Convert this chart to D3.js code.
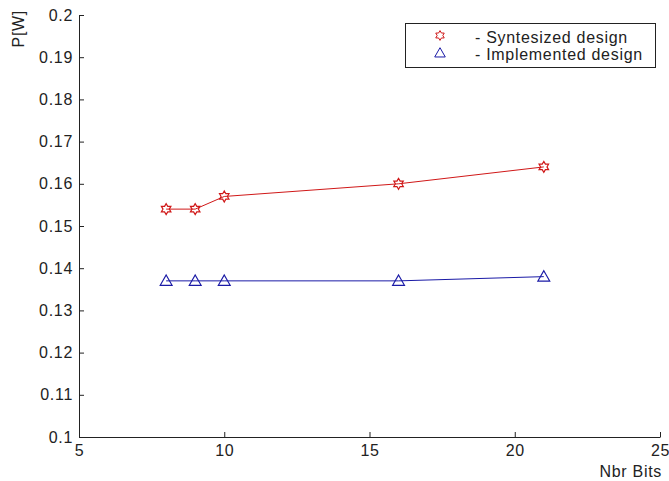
<!DOCTYPE html>
<html>
    <head>
        <title>Power vs Nbr Bits</title>
        <script src="https://d3js.org/d3.v7.min.js"></script>
        <style>
            body { margin: 0; background: #fff; }
            text { font-family: "Liberation Sans", Arial, sans-serif; fill: #222; letter-spacing: 0.7px; }
        </style>
    </head>
    <body>
        <svg width="669" height="481"></svg>
        <script>
            // data
            const bits = [8, 9, 10, 16, 21];
            const synthesized = [0.154, 0.154, 0.157, 0.16, 0.164];
            const implemented = [0.137, 0.137, 0.137, 0.137, 0.138];
            const xTicks = [5, 10, 15, 20, 25];
            const yTicks = [0.1, 0.11, 0.12, 0.13, 0.14, 0.15, 0.16, 0.17, 0.18, 0.19, 0.2];
            const legendLabels = ["- Syntesized design", "- Implemented design"];

            const svg = d3.select("svg"),
                margin = { top: 15, right: 9, bottom: 44, left: 79 },
                width = +svg.attr("width") - margin.left - margin.right,
                height = +svg.attr("height") - margin.top - margin.bottom;

            const g = svg.append("g")
                .attr("transform", `translate(${margin.left},${margin.top})`);

            const x = d3.scaleLinear().domain([5, 25]).range([0, width]);
            const y = d3.scaleLinear().domain([0.1, 0.2]).range([height, 0]);

            // axes, ticks point inward like matlab
            const xAxis = g.append("g")
                .attr("transform", `translate(0,${height})`)
                .call(d3.axisBottom(x).tickValues(xTicks).tickSizeInner(-5).tickSizeOuter(0).tickPadding(8).tickFormat(d3.format("d")));
            const yAxis = g.append("g")
                .call(d3.axisLeft(y).tickValues(yTicks).tickSizeInner(-5).tickSizeOuter(0).tickPadding(6).tickFormat(d => String(+d.toFixed(2))));

            [xAxis, yAxis].forEach(a => {
                a.selectAll("path, line").attr("stroke", "#222");
                a.selectAll("text").attr("font-size", 16).attr("fill", "#333")
                    .style("font-family", "'Liberation Sans', Arial, sans-serif");
            });

            // axis labels
            svg.append("text")
                .attr("x", 662).attr("y", 477)
                .attr("text-anchor", "end")
                .attr("font-size", 16)
                .text("Nbr Bits");
            svg.append("text")
                .attr("transform", "translate(24,10) rotate(-90)")
                .attr("text-anchor", "end")
                .attr("font-size", 16)
                .text("P[W]");

            const line = d3.line()
                .x(d => x(d[0]))
                .y(d => y(d[1]));

            const hexagram = {
                draw(ctx, size) {
                    const r = Math.sqrt(size) / 2, ri = r * 0.58;
                    for (let i = 0; i < 12; i++) {
                        const a = Math.PI / 2 + i * Math.PI / 6;
                        const rr = i % 2 === 0 ? r : ri;
                        const px = rr * Math.cos(a), py = -rr * Math.sin(a);
                        i === 0 ? ctx.moveTo(px, py) : ctx.lineTo(px, py);
                    }
                    ctx.closePath();
                }
            };
            const triangle = {
                draw(ctx, size) {
                    const r = Math.sqrt(size) / 2;
                    ctx.moveTo(0, -r);
                    ctx.lineTo(r * 1.0, r * 0.75);
                    ctx.lineTo(-r * 1.0, r * 0.75);
                    ctx.closePath();
                }
            };

            const series = [
                { values: synthesized, color: "#d01818", shape: hexagram, size: 120 },
                { values: implemented, color: "#1a1aa6", shape: triangle, size: 140 }
            ];

            series.forEach(s => {
                const pts = bits.map((b, i) => [b, s.values[i]]);
                g.append("path")
                    .datum(pts)
                    .attr("fill", "none")
                    .attr("stroke", s.color)
                    .attr("stroke-width", 1)
                    .attr("d", line);
                g.selectAll(null)
                    .data(pts)
                    .join("path")
                    .attr("transform", d => `translate(${x(d[0])},${y(d[1])})`)
                    .attr("d", d3.symbol(s.shape, s.size))
                    .attr("fill", "none")
                    .attr("stroke", s.color)
                    .attr("stroke-width", 1.2);
            });

            // legend
            const legend = svg.append("g");
            legend.append("rect")
                .attr("x", 405.5).attr("y", 23.5)
                .attr("width", 250).attr("height", 44)
                .attr("fill", "#fff").attr("stroke", "#222");
            series.forEach((s, i) => {
                const ly = 35.5 + i * 17.5;
                legend.append("path")
                    .attr("transform", `translate(440,${ly})`)
                    .attr("d", d3.symbol(s.shape, s.size * 0.8))
                    .attr("fill", "none")
                    .attr("stroke", s.color);
                legend.append("text")
                    .attr("x", 475).attr("y", ly + 7)
                    .attr("font-size", 16)
                    .text(legendLabels[i]);
            });
        </script>
    </body>
</html>
